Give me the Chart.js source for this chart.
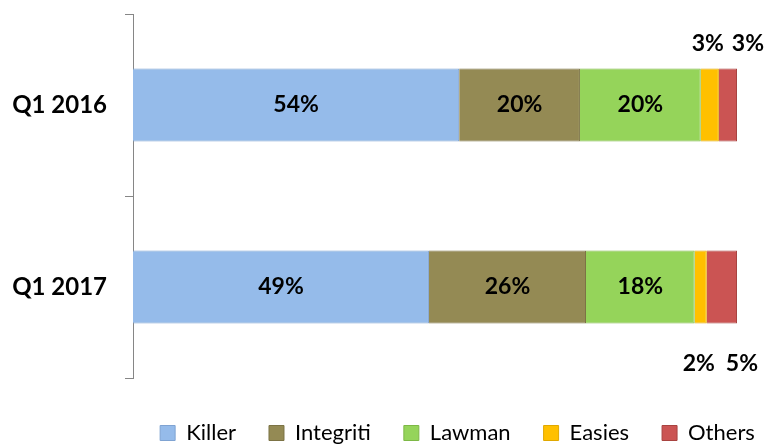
<!DOCTYPE html>
<html>
<head>
<meta charset="utf-8">
<script src="https://cdn.jsdelivr.net/npm/chart.js@4.4.1/dist/chart.umd.min.js"></script>
<style>
  html, body { margin: 0; padding: 0; background: #ffffff; }
  #wrap { width: 771px; height: 446px; position: relative; }
</style>
</head>
<body>
<div id="wrap"><canvas id="c" width="771" height="446"></canvas></div>
<script>
// ---- data ----
const categories = ['Q1 2016', 'Q1 2017'];
const seriesNames = ['Killer', 'Integriti', 'Lawman', 'Easies', 'Others'];
const killer    = [54, 49];
const integriti = [20, 26];
const lawman    = [20, 18];
const easies    = [3, 2];
const others    = [3, 5];

const seriesValues = [killer, integriti, lawman, easies, others];
const fills   = ['#95BBEA', '#948A54', '#95D45A', '#FFC000', '#CB5453'];
const borders = ['#7FA3D2', '#7C7345', '#7DB846', '#E0A800', '#A84340'];

const FONT = 'Lato';

const barLabels = {
  id: 'barLabels',
  afterDatasetsDraw(chart) {
    const ctx = chart.ctx;
    ctx.save();
    ctx.font = 'bold 23px ' + FONT;
    ctx.fillStyle = '#000000';
    ctx.textAlign = 'center';
    ctx.textBaseline = 'middle';
    chart.data.datasets.forEach((ds, di) => {
      const meta = chart.getDatasetMeta(di);
      meta.data.forEach((bar, i) => {
        const v = ds.data[i];
        let x = (bar.x + bar.base) / 2;
        let y = bar.y;
        if (v < 10) {
          x += (di === 4) ? 20 : -2;
          y = (i === 0) ? bar.y - bar.height / 2 - 25 : bar.y + bar.height / 2 + 40;
        }
        ctx.fillText(v + '%', x, y);
      });
    });
    ctx.restore();
  }
};

const legendPlace = {
  id: 'legendPlace',
  beforeUpdate(chart) {
    const lg = chart.legend;
    if (lg && !lg._placed) {
      lg._placed = true;
      const fit = lg.fit;
      lg.fit = function () { fit.call(this); this.height = 68; };
      const draw = lg.draw;
      lg.draw = function () {
        const c = this.ctx;
        c.save();
        c.translate(89, 11);
        draw.call(this);
        c.restore();
      };
    }
  }
};

new Chart(document.getElementById('c'), {
  type: 'bar',
  data: {
    labels: categories,
    datasets: seriesNames.map((name, k) => ({
      label: name,
      data: seriesValues[k],
      backgroundColor: fills[k],
      borderColor: borders[k],
      borderWidth: 1,
      barPercentage: 0.5,
      categoryPercentage: 0.8
    }))
  },
  options: {
    indexAxis: 'y',
    responsive: false,
    animation: false,
    devicePixelRatio: 1,
    layout: { padding: { top: 14, right: 34, left: 0, bottom: 0 } },
    scales: {
      x: { stacked: true, min: 0, max: 100, display: false },
      y: {
        stacked: true,
        afterFit(scale) {
          scale.width = 133;
          scale.paddingTop = 0;
          scale.paddingBottom = 0;
        },
        grid: { offset: true, drawOnChartArea: false, tickLength: 8, color: '#868686', lineWidth: 1 },
        border: { display: true, color: '#868686', width: 1 },
        ticks: { color: '#000000', padding: 18, font: { family: FONT, size: 24, weight: 'bold' } }
      }
    },
    plugins: {
      legend: {
        position: 'bottom',
        labels: {
          color: '#000000',
          boxWidth: 15,
          boxHeight: 15,
          padding: 33,
          font: { family: FONT, size: 22 }
        }
      },
      tooltip: { enabled: false }
    }
  },
  plugins: [barLabels, legendPlace]
});
</script>
</body>
</html>
